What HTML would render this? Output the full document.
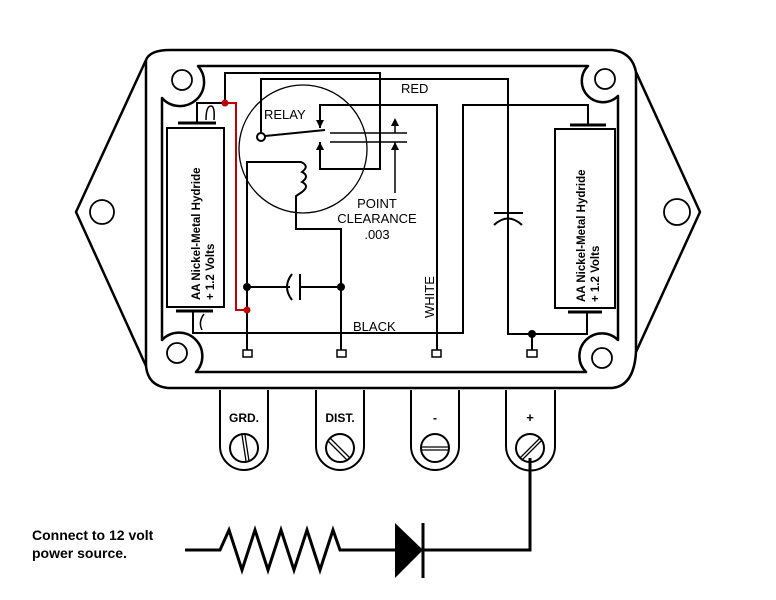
<!DOCTYPE html>
<html><head><meta charset="utf-8"><style>
html,body{margin:0;padding:0;background:#fff;}
svg{display:block;}
text{font-family:"Liberation Sans",Arial,sans-serif;fill:#000;}
</style></head><body>
<svg width="776" height="600" viewBox="0 0 776 600" xmlns="http://www.w3.org/2000/svg">
<g fill="none" stroke="#000" stroke-width="2.5" stroke-linejoin="round">
<!-- outer case -->
<path d="M170,50 L612,50 Q632,52 636,72 L700,212 L636,352 Q634,386 612,388 L168,388 Q148,386 146,366 L76,212 L146,60 Q150,50 170,50 Z"/>
<path d="M146,60 L146,366 M636,72 L636,352"/>
<!-- inner frame with notches -->
<path d="M198,66 L588,66 A18,18 0 0 0 618,96 L618,340 A18,18 0 0 0 586,372 L196,372 A18,18 0 0 0 162,340 L162,98 A18,18 0 0 0 198,66 Z"/>
</g>
<g fill="none" stroke="#000" stroke-width="1.8">
<circle cx="182" cy="80" r="10"/><circle cx="177" cy="353" r="10"/>
<circle cx="605" cy="79" r="10"/><circle cx="602" cy="358" r="10"/>
<circle cx="102" cy="212" r="12"/><circle cx="677" cy="212" r="13"/>
<!-- relay circle -->
<circle cx="303" cy="149" r="64" stroke-width="1.3"/>
</g>
<g fill="none" stroke="#000" stroke-width="2">
<!-- left battery -->
<rect x="167" y="128" width="57" height="179"/>
<line x1="178" y1="123" x2="216" y2="123" stroke-width="3"/>
<line x1="176" y1="311" x2="213" y2="311" stroke-width="3"/>
<path d="M197,123 L197,103 L225,103 L225,73 L380,73 L380,169 L320,169 L320,142"/>
<path d="M206,120 Q206,106 211,106 Q215,106 214,120" stroke-width="1.5"/>
<path d="M193,311 L193,333 L463,333 L463,105 L588,105 L588,125"/>
<path d="M204,314 Q198,322 202,330" stroke-width="1.5"/>
<!-- relay -->
<circle cx="261" cy="137" r="4" fill="#fff"/>
<path d="M261,133 L261,79 L508,79 L508,334 L587,334 L587,312"/>
<line x1="265" y1="136" x2="325" y2="130"/>
<path d="M320,128 L320,105 L437,105 L437,350"/>
<line x1="330" y1="133" x2="407" y2="133" stroke-width="1.5"/>
<line x1="330" y1="142" x2="407" y2="142" stroke-width="1.5"/>
<line x1="395" y1="120" x2="395" y2="133" stroke-width="1.5"/>
<line x1="395" y1="142" x2="395" y2="193" stroke-width="1.5"/>
<!-- coil -->
<path d="M247,350 L247,162 L301,162 Q310,166 302,172 Q310,176 302,182 Q310,186 302,192 L296,196 L296,229 L341,229 L341,350"/>
<!-- capacitor left -->
<line x1="247" y1="287" x2="290" y2="287"/>
<path d="M292,274 Q282,287 292,300"/>
<line x1="300" y1="274" x2="300" y2="300"/>
<line x1="300" y1="287" x2="341" y2="287"/>
<!-- capacitor right -->
<line x1="494" y1="213" x2="523" y2="213"/>
<path d="M494,225 Q508,212 522,225"/>
<!-- right battery -->
<rect x="555" y="129" width="60" height="179"/>
<line x1="570" y1="125" x2="606" y2="125" stroke-width="3"/>
<line x1="568" y1="312" x2="602" y2="312" stroke-width="3"/>
<line x1="532" y1="334" x2="532" y2="350"/>
</g>
<!-- red wire -->
<path d="M225,103 L236,103 L236,310 L247,310" fill="none" stroke="#c00000" stroke-width="2"/>
<g fill="#c00000"><circle cx="225" cy="103" r="3.5"/><circle cx="247" cy="310" r="3.5"/></g>
<g fill="#000">
<circle cx="247" cy="287" r="4"/><circle cx="341" cy="287" r="4"/><circle cx="532" cy="334" r="4"/>
<polygon points="316,120 324,120 320,128"/>
<polygon points="316,150 324,150 320,142"/>
<polygon points="391,126 399,126 395,118"/>
<polygon points="391,150 399,150 395,142"/>
</g>
<g fill="#fff" stroke="#000" stroke-width="1.5">
<rect x="243" y="350" width="9" height="7"/><rect x="337" y="350" width="9" height="7"/>
<rect x="432" y="350" width="9" height="7"/><rect x="527" y="350" width="10" height="7"/>
</g>
<!-- terminals -->
<g fill="none" stroke="#000" stroke-width="2">
<path d="M220,390 L220,446 A24,24 0 0 0 268,446 L268,390"/>
<path d="M316,390 L316,446 A24,24 0 0 0 364,446 L364,390"/>
<path d="M411,390 L411,446 A24,24 0 0 0 459,446 L459,390"/>
<path d="M506,390 L506,446 A24,24 0 0 0 555,446 L555,390"/>
<circle cx="244" cy="448" r="14"/><circle cx="340" cy="448" r="14"/>
<circle cx="435" cy="448" r="14"/><circle cx="530" cy="448" r="14"/>
<path d="M242,435 L246,461 M245,435 L249,461" stroke-width="1.3"/>
<path d="M330,438 L350,458 M328,441 L347,460" stroke-width="1.3"/>
<path d="M421,447 L449,447 M421,450 L449,450" stroke-width="1.3"/>
<path d="M520,458 L540,438 M522,460 L542,440" stroke-width="1.3"/>
<path d="M530,458 L530,550 L423,550 M395,550 L347,550 L340,550 L333,530 L320,570 L307,530 L294,570 L281,530 L268,570 L255,530 L242,570 L229,530 L220,550 L185,550" stroke-width="3"/>
<line x1="423" y1="523" x2="423" y2="578" stroke-width="3"/>
</g>
<polygon points="395,523 395,578 423,550" fill="#000"/>
<!-- text -->
<text x="264" y="119" font-size="13">RELAY</text>
<text x="401" y="93" font-size="13">RED</text>
<text x="377" y="208" font-size="13" text-anchor="middle">POINT</text>
<text x="377" y="223" font-size="13" text-anchor="middle">CLEARANCE</text>
<text x="377" y="239" font-size="13" text-anchor="middle">.003</text>
<text x="353" y="331" font-size="13">BLACK</text>
<text transform="translate(434,318) rotate(-90)" font-size="13">WHITE</text>
<text transform="translate(200,300) rotate(-90)" font-size="11.5" font-weight="bold">AA Nickel-Metal Hydride</text>
<text transform="translate(214,300) rotate(-90)" font-size="11.5" font-weight="bold">+ 1.2 Volts</text>
<text transform="translate(585,302) rotate(-90)" font-size="11.5" font-weight="bold">AA Nickel-Metal Hydride</text>
<text transform="translate(599,302) rotate(-90)" font-size="11.5" font-weight="bold">+ 1.2 Volts</text>
<text x="244" y="422" font-size="12" font-weight="bold" text-anchor="middle">GRD.</text>
<text x="340" y="422" font-size="12" font-weight="bold" text-anchor="middle">DIST.</text>
<text x="435" y="422" font-size="12" font-weight="bold" text-anchor="middle">-</text>
<text x="530" y="422" font-size="13" font-weight="bold" text-anchor="middle">+</text>
<text x="32" y="540" font-size="14" font-weight="bold">Connect to 12 volt</text>
<text x="32" y="558" font-size="14" font-weight="bold">power source.</text>
</svg>
</body></html>
